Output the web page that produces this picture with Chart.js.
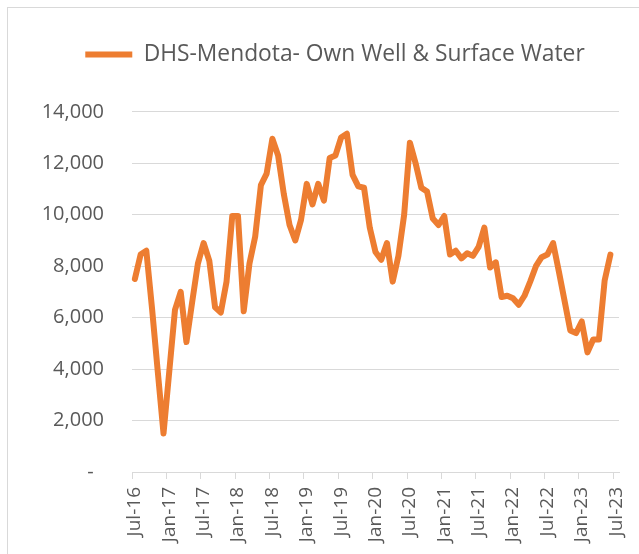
<!DOCTYPE html>
<html>
<head>
<meta charset="utf-8">
<script src="https://cdn.jsdelivr.net/npm/chart.js@4.4.1/dist/chart.umd.min.js"></script>
<style>
  html, body { margin: 0; padding: 0; background: #fff; overflow: hidden; }
  .frame { position: absolute; left: 7px; top: 7px; width: 700px; height: 600px;
           border-left: 1px solid #d9d9d9; border-top: 1px solid #d9d9d9; }
  .chart-box { position: absolute; left: 8px; top: 8px; width: 654px; height: 564px; }
</style>
</head>
<body>
<div class="frame"></div>
<div class="chart-box"><canvas id="volumeChart"></canvas></div>
<script>
// Monthly categories, Jul-16 .. Jul-23
const monthNames = ['Jan', 'Feb', 'Mar', 'Apr', 'May', 'Jun', 'Jul', 'Aug', 'Sep', 'Oct', 'Nov', 'Dec'];
const months = [];
for (let k = 0; k < 85; k++) {
    const m = (6 + k) % 12;
    const y = 16 + Math.floor((6 + k) / 12);
    months.push(monthNames[m] + '-' + y);
}

const seriesLabel = 'DHS-Mendota- Own Well & Surface Water';

// Monthly volume, Jul-16 .. Jun-23
const volumes = [
    7500, 8450, 8600, 6350, 3900, 1500, 3900, 6300, 7000, 5050, 6600, 8100,
    8900, 8200, 6400, 6200, 7400, 9950, 9950, 6250, 8100, 9150, 11150, 11600,
    12950, 12300, 10800, 9600, 9000, 9800, 11200, 10400, 11200, 10550, 12200, 12300,
    13000, 13150, 11550, 11100, 11050, 9500, 8550, 8250, 8900, 7400, 8400, 10000,
    12800, 12000, 11050, 10900, 9850, 9600, 9950, 8450, 8600, 8300, 8500, 8400,
    8750, 9500, 7950, 8150, 6800, 6850, 6750, 6500, 6850, 7400, 8000, 8350,
    8450, 8900, 7800, 6650, 5500, 5400, 5850, 4650, 5150, 5150, 7450, 8450
];

const yMax = 14000;
const yStep = 2000;
const labelEvery = 6;

const textColor = '#595959';
const gridColor = '#d9d9d9';

Chart.defaults.font.family = '"Open Sans", sans-serif';
Chart.defaults.color = textColor;

// extra room under the legend
const legendGap = {
    id: 'legendGap',
    beforeInit(chart) {
        const fitLegend = chart.legend.fit;
        chart.legend.fit = function () {
            fitLegend.call(this);
            this.height += 36;
        };
    }
};

const ctx = document.getElementById('volumeChart').getContext('2d');

new Chart(ctx, {
    type: 'line',
    data: {
        labels: months,
        datasets: [{
            label: seriesLabel,
            data: volumes,
            borderColor: '#ED7D31',
            backgroundColor: '#ED7D31',
            borderWidth: 6,
            borderJoinStyle: 'round',
            borderCapStyle: 'round',
            pointRadius: 0,
            tension: 0,
            fill: false
        }]
    },
    options: {
        responsive: true,
        maintainAspectRatio: false,
        animation: false,
        layout: {
            padding: { top: 25, left: 0, right: 0, bottom: 0 }
        },
        plugins: {
            legend: {
                position: 'top',
                align: 'center',
                labels: {
                    usePointStyle: true,
                    pointStyle: 'line',
                    pointStyleWidth: 47,
                    padding: 10,
                    color: textColor,
                    font: { size: 22.8 }
                }
            },
            tooltip: { enabled: false }
        },
        scales: {
            x: {
                type: 'category',
                offset: true,
                grid: {
                    display: true,
                    offset: true,
                    drawOnChartArea: false,
                    drawTicks: true,
                    tickLength: 7,
                    color: function(c) {
                        return c.index % labelEvery === 0 ? gridColor : 'rgba(0,0,0,0)';
                    }
                },
                border: { display: true, color: gridColor, width: 1 },
                ticks: {
                    autoSkip: false,
                    maxRotation: 90,
                    minRotation: 90,
                    padding: 8,
                    color: textColor,
                    font: { size: 19 },
                    callback: function(value, index) {
                        return index % labelEvery === 0 ? months[index] : '';
                    }
                },
                afterFit: function(scale) { scale.height = 100; }
            },
            y: {
                min: 0,
                max: yMax,
                grid: {
                    color: gridColor,
                    lineWidth: 1,
                    drawTicks: false
                },
                border: { display: false },
                ticks: {
                    stepSize: yStep,
                    padding: 28,
                    color: textColor,
                    font: { size: 20 },
                    callback: function(value) {
                        return value === 0 ? '-  ' : value.toLocaleString('en-US');
                    }
                },
                afterFit: function(scale) { scale.width = 124; }
            },
            yRight: {
                type: 'linear',
                position: 'right',
                display: true,
                grid: { display: false },
                border: { display: false },
                ticks: { display: false },
                afterFit: function(scale) { scale.width = 43; }
            }
        }
    },
    plugins: [legendGap]
});
</script>
</body>
</html>
